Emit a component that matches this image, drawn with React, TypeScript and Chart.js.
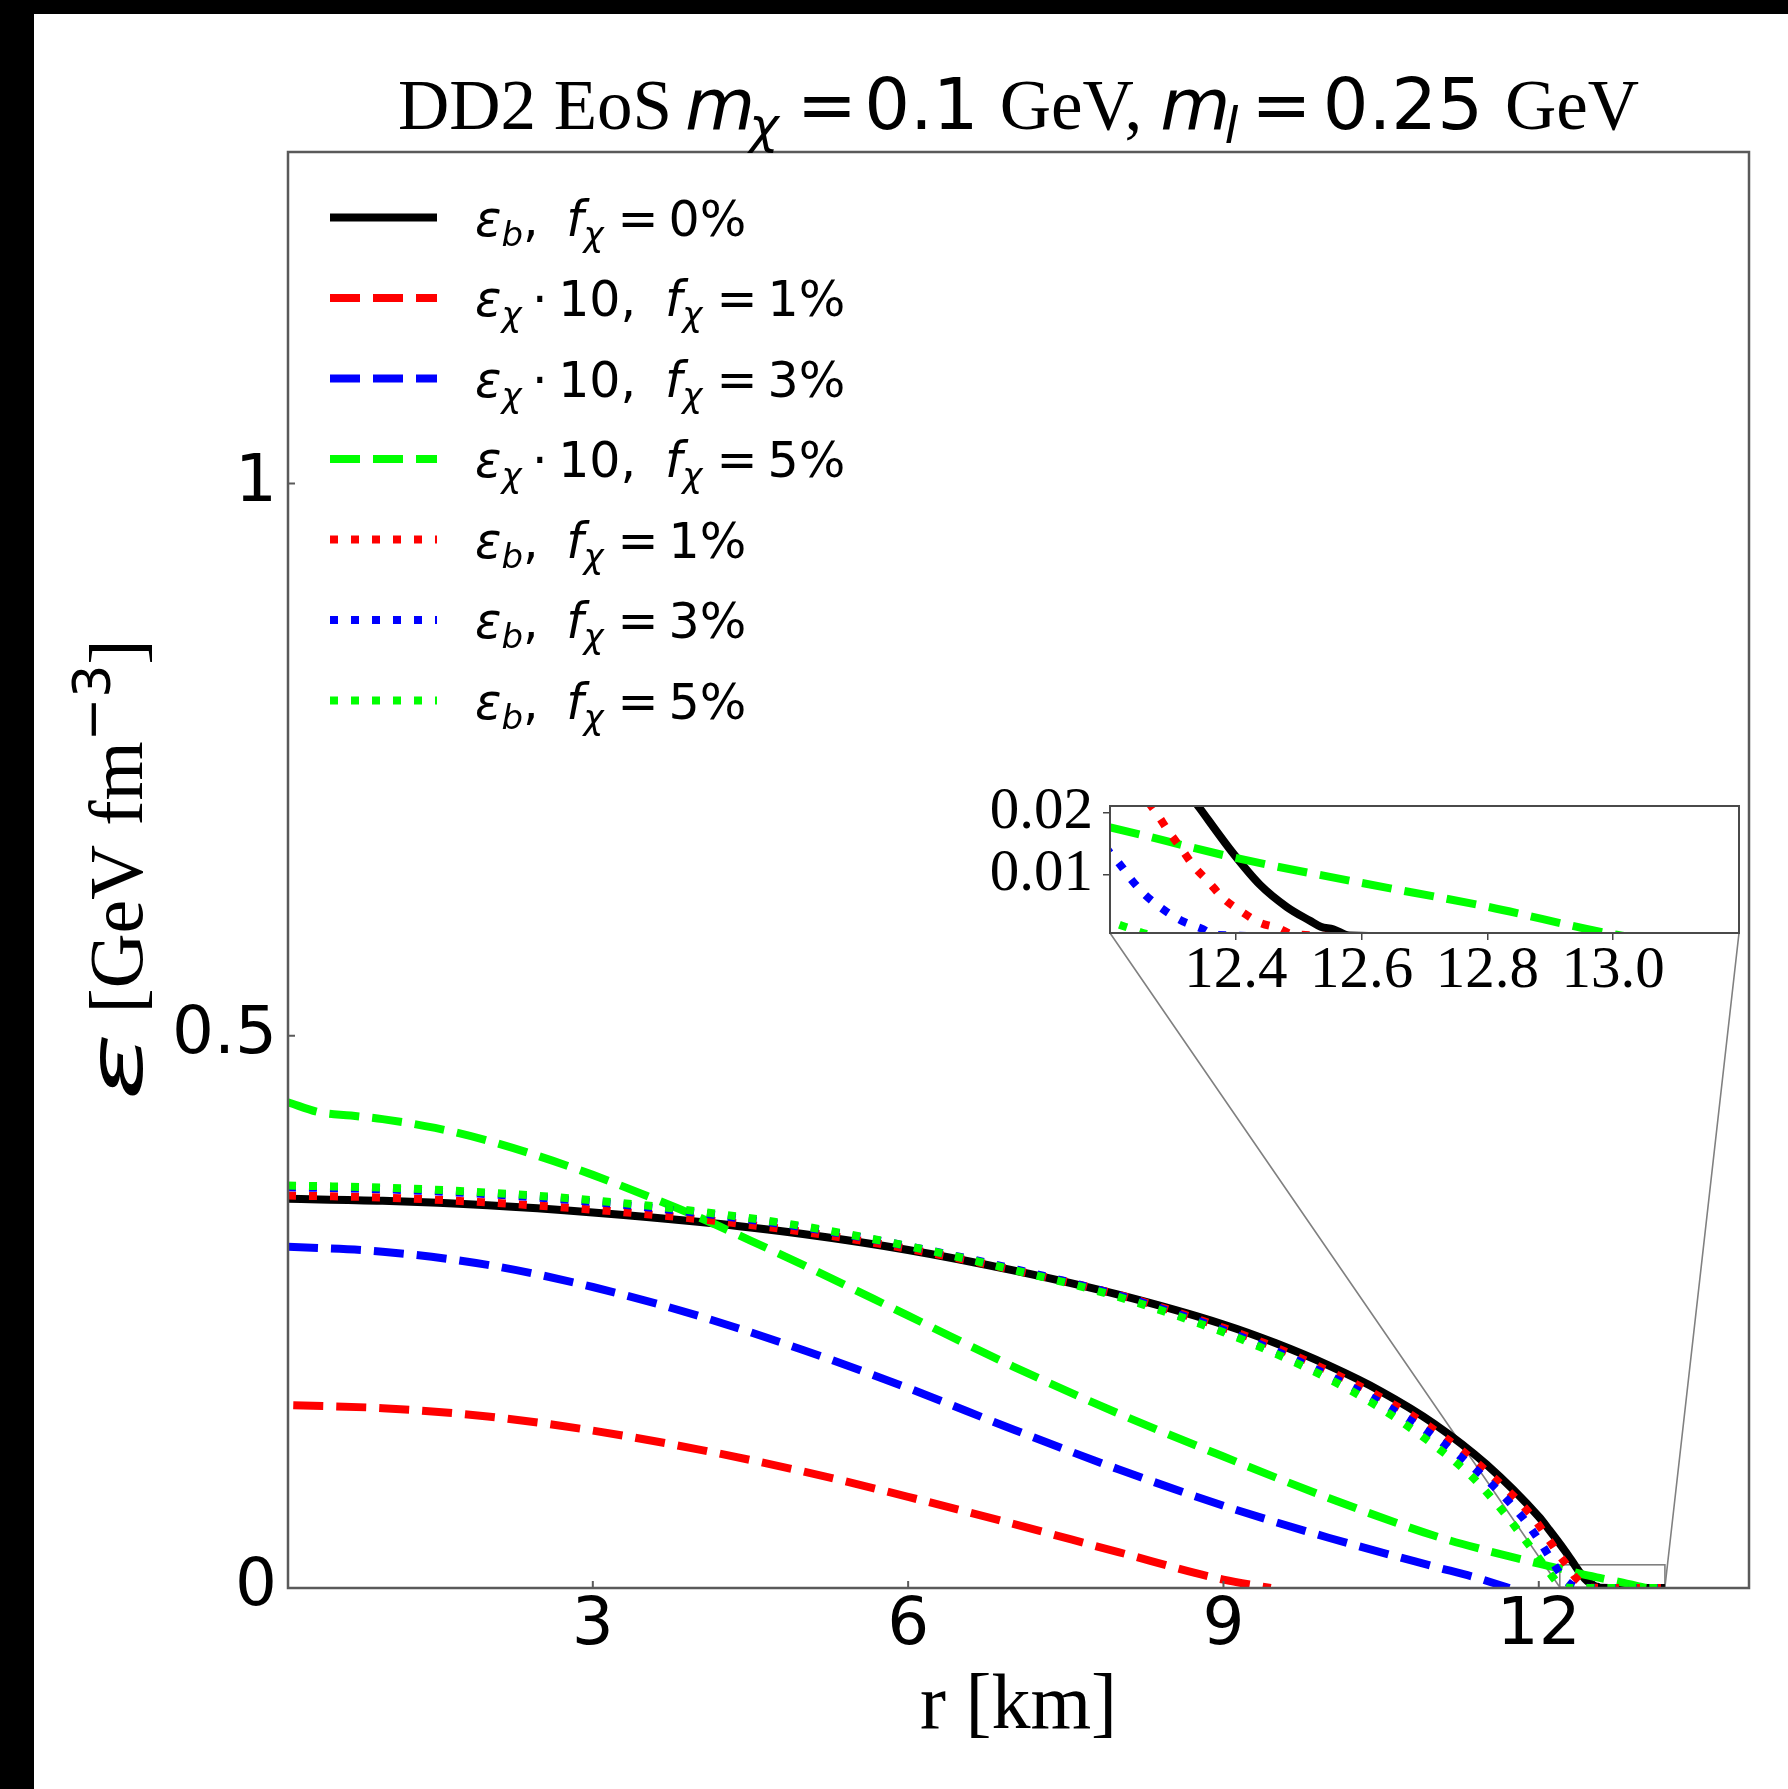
import React, { useEffect, useRef } from 'react';
import { Chart, registerables } from 'chart.js';

Chart.register(...registerables);

const W = 1788;
const H = 1789;

// ---------------- data ----------------
// eps_b, f_chi = 0%
const rB0 = [0.1, 1, 2, 3, 4, 5, 6, 7, 8, 9, 9.5, 10, 10.5, 11, 11.5, 12.0, 12.1, 12.25, 12.343, 12.396, 12.438, 12.481, 12.518, 12.535, 12.555, 12.58, 12.8, 13.2];
const eB0 = [0.3523, 0.3505, 0.3465, 0.34, 0.3315, 0.3205, 0.306, 0.2875, 0.2655, 0.2385, 0.2215, 0.2015, 0.178, 0.149, 0.112, 0.0645, 0.0525, 0.0335, 0.0206, 0.0134, 0.00845, 0.00487, 0.00265, 0.0017, 0.0013, 0.0003, 0.00005, 0.00005];
// eps_chi * 10, f_chi = 1%
const rC1 = [0.15, 1, 2, 3, 4, 5, 6, 7, 8, 9, 9.45];
const eC1 = [0.1655, 0.1628, 0.1553, 0.1425, 0.1255, 0.1055, 0.0825, 0.058, 0.0325, 0.0075, 0];
// eps_chi * 10, f_chi = 3%
const rC3 = [0.1, 1, 2, 3, 4, 5, 6, 7, 8, 9, 10, 11, 11.4, 11.72];
const eC3 = [0.309, 0.3045, 0.2925, 0.2725, 0.2465, 0.2155, 0.181, 0.1435, 0.1075, 0.0745, 0.0455, 0.0195, 0.0095, 0];
// eps_chi * 10, f_chi = 5%
const rC5 = [0.1, 0.4, 0.7, 1.0, 1.5, 2.0, 2.5, 3.0, 3.5, 4.0, 4.5, 5.0, 6.0, 7.0, 8.0, 9.0, 10.0, 11.0, 11.5, 12.0, 12.2, 12.4, 12.6, 12.8, 13.0, 13.03];
const eC5 = [0.4397, 0.4307, 0.4277, 0.4245, 0.4165, 0.405, 0.3905, 0.374, 0.3555, 0.336, 0.3145, 0.2925, 0.2465, 0.2005, 0.158, 0.119, 0.0815, 0.0475, 0.034, 0.022, 0.0176, 0.0127, 0.0087, 0.0049, 0.0005, 0.00005];
// eps_b, f_chi = 1%
const rB1 = [0.1, 1, 2, 3, 4, 5, 6, 7, 8, 9, 9.5, 10, 10.5, 11, 11.5, 11.94, 12.1, 12.2, 12.273, 12.292, 12.313, 12.333, 12.357, 12.38, 12.408, 12.437, 12.469, 12.49, 12.7, 13.2];
const eB1 = [0.3553, 0.3535, 0.349, 0.3425, 0.334, 0.3225, 0.307, 0.288, 0.2655, 0.2355, 0.2175, 0.1965, 0.1725, 0.1435, 0.106, 0.0645, 0.043, 0.029, 0.02, 0.0171, 0.01425, 0.0114, 0.00885, 0.00625, 0.0042, 0.0024, 0.00144, 0.0005, 0.00005, 0.00005];
// eps_b, f_chi = 3%
const rB3 = [0.1, 1, 2, 3, 4, 5, 6, 7, 8, 9, 9.5, 10, 10.5, 11, 11.5, 11.84, 12.0, 12.1, 12.2, 12.214, 12.235, 12.258, 12.287, 12.316, 12.345, 12.368, 12.6, 13.2];
const eB3 = [0.3628, 0.361, 0.3565, 0.3495, 0.3395, 0.3265, 0.3095, 0.289, 0.265, 0.2335, 0.2145, 0.1925, 0.1675, 0.1375, 0.0985, 0.0645, 0.0435, 0.0285, 0.0135, 0.0119, 0.0091, 0.0066, 0.0043, 0.00255, 0.00144, 0.0004, 0.00005, 0.00005];
// eps_b, f_chi = 5%
const rB5 = [0.1, 1, 2, 3, 4, 5, 6, 7, 8, 9, 9.5, 10, 10.5, 11, 11.35, 11.65, 11.85, 12.0, 12.1, 12.2, 12.232, 12.258, 12.3, 12.6, 13.2];
const eB5 = [0.3643, 0.3625, 0.358, 0.351, 0.341, 0.3275, 0.3095, 0.288, 0.2635, 0.2315, 0.212, 0.1895, 0.1625, 0.1295, 0.102, 0.0705, 0.046, 0.027, 0.014, 0.0028, 0.00144, 0.00056, 0.0001, 0.00005, 0.00005];

const xRangeMain = [0.1, 14];
const yRangeMain = [0, 1.3];
const xTicksMain = [3, 6, 9, 12];
const yTicksMain = [0, 0.5, 1];

const xRangeInset = [12.2, 13.2];
const yRangeInset = [0.0007, 0.021];
const xTicksInset = [12.4, 12.6, 12.8, 13.0];
const yTicksInset = [0.01, 0.02];

const legendKinds = ['b', 'chi', 'chi', 'chi', 'b', 'b', 'b'];
const legendPercents = ['0%', '1%', '3%', '5%', '1%', '3%', '5%'];

// ---------------- styles / layout ----------------
const MAIN = { left: 288, top: 152, right: 1749, bottom: 1588 };
const INSET = { left: 1110, top: 806, right: 1739, bottom: 933 };
const LW = 8;
const DASHED = [30, 13];
const DOTTED = [8, 13];

const SERIES = [
  { r: rB0, e: eB0, color: '#000000', dash: [] as number[] },
  { r: rC1, e: eC1, color: '#ff0000', dash: DASHED },
  { r: rC3, e: eC3, color: '#0000ff', dash: DASHED },
  { r: rC5, e: eC5, color: '#00ff00', dash: DASHED },
  { r: rB1, e: eB1, color: '#ff0000', dash: DOTTED },
  { r: rB3, e: eB3, color: '#0000ff', dash: DOTTED },
  { r: rB5, e: eB5, color: '#00ff00', dash: DOTTED },
];

const dj = (s: number) => `${s}px "DejaVu Sans"`;
const dji = (s: number) => `italic ${s}px "DejaVu Sans"`;
const serif = (s: number) => `${s}px "Liberation Serif"`;

type Seg = { t: string; f: string; dy?: number; dx?: number; sx?: number };

function drawRich(ctx: CanvasRenderingContext2D, segs: Seg[], x: number, y: number, align: 'left' | 'center') {
  let total = 0;
  for (const s of segs) {
    ctx.font = s.f;
    total += (s.dx || 0) + ctx.measureText(s.t).width * (s.sx || 1);
  }
  let cx = align === 'center' ? x - total / 2 : x;
  ctx.textAlign = 'left';
  ctx.textBaseline = 'alphabetic';
  for (const s of segs) {
    ctx.font = s.f;
    cx += s.dx || 0;
    const sx = s.sx || 1;
    ctx.save();
    ctx.translate(cx, y + (s.dy || 0));
    ctx.scale(sx, 1);
    ctx.fillText(s.t, 0, 0);
    ctx.restore();
    cx += ctx.measureText(s.t).width * sx;
  }
}

const LF = 49; // legend font size
const LS = 34; // legend subscript size

function legendSegs(kind: string, pct: string): Seg[] {
  const segs: Seg[] = [{ t: 'ε', f: dji(LF) }];
  if (kind === 'b') {
    segs.push({ t: 'b', f: dji(LS), dy: 10 }, { t: ',', f: dj(LF) });
  } else {
    segs.push({ t: 'χ', f: dji(LS), dy: 10 }, { t: '·', f: dj(LF), dx: 10.5 }, { t: '10,', f: dj(LF), dx: 10.5 });
  }
  segs.push(
    { t: 'f', f: dji(LF), dx: kind === 'b' ? 27.5 : 29 },
    { t: 'χ', f: dji(LS), dy: 10 },
    { t: '=', f: dj(LF), dx: 14 },
    { t: pct, f: dj(LF), dx: 10 }
  );
  return segs;
}

function makeDatasets() {
  return SERIES.map((s, i) => ({
    data: s.r.map((r, k) => ({ x: r, y: s.e[k] })),
    borderColor: s.color,
    backgroundColor: s.color,
    borderWidth: LW,
    borderDash: s.dash,
    borderCapStyle: 'butt' as const,
    borderJoinStyle: 'round' as const,
    pointRadius: 0,
    fill: false,
    cubicInterpolationMode: 'monotone' as const,
    order: SERIES.length - i,
  }));
}

const mainDecor = {
  id: 'mainDecor',
  beforeDatasetsDraw(chart: any) {
    const { ctx, scales } = chart;
    const x = scales.x, y = scales.y;
    const rx0 = x.getPixelForValue(xRangeInset[0]);
    const rx1 = x.getPixelForValue(xRangeInset[1]);
    const ry0 = y.getPixelForValue(yRangeInset[0]);
    const ry1 = y.getPixelForValue(yRangeInset[1]);
    ctx.save();
    ctx.strokeStyle = '#808080';
    ctx.lineWidth = 1.6;
    ctx.strokeRect(rx0, ry1, rx1 - rx0, ry0 - ry1);
    ctx.beginPath();
    ctx.moveTo(INSET.left, INSET.bottom);
    ctx.lineTo(rx0, ry0);
    ctx.moveTo(INSET.right, INSET.bottom);
    ctx.lineTo(rx1, ry0);
    ctx.stroke();
    ctx.restore();
  },
  afterDraw(chart: any) {
    const { ctx, chartArea: a, scales } = chart;
    const x = scales.x, y = scales.y;
    ctx.save();
    // frame
    ctx.strokeStyle = '#5a5a5a';
    ctx.lineWidth = 2.5;
    ctx.strokeRect(a.left, a.top, a.right - a.left, a.bottom - a.top);
    // inward ticks
    ctx.lineWidth = 2;
    ctx.beginPath();
    for (const v of xTicksMain) {
      const px = x.getPixelForValue(v);
      ctx.moveTo(px, a.bottom);
      ctx.lineTo(px, a.bottom - 7);
    }
    for (const v of yTicksMain) {
      const py = y.getPixelForValue(v);
      ctx.moveTo(a.left, py);
      ctx.lineTo(a.left + 7, py);
    }
    ctx.stroke();

    // legend
    ctx.fillStyle = '#000';
    SERIES.forEach((s, i) => {
      const ly = 217.5 + 80.5 * i;
      ctx.beginPath();
      ctx.strokeStyle = s.color;
      ctx.lineWidth = LW;
      ctx.lineCap = 'butt';
      ctx.setLineDash(s.dash);
      ctx.moveTo(330, ly);
      ctx.lineTo(437, ly);
      ctx.stroke();
      ctx.setLineDash([]);
      drawRich(ctx, legendSegs(legendKinds[i], legendPercents[i]), 475, ly + 18, 'left');
    });

    // title
    const cx = (a.left + a.right) / 2;
    drawRich(ctx, [
      { t: 'DD2 EoS', f: serif(71) },
      { t: 'm', f: dji(72), dx: 13 },
      { t: 'χ', f: dji(50), dy: 14, dx: -6 },
      { t: '=', f: dj(72), dx: 18 },
      { t: '0.1', f: dj(72), dx: 7 },
      { t: 'GeV,', f: serif(71), dx: 21 },
      { t: 'm', f: dji(72), dx: 18 },
      { t: 'l', f: dji(50), dy: 14, dx: -6 },
      { t: '=', f: dj(72), dx: 13 },
      { t: '0.25', f: dj(72), dx: 11 },
      { t: 'GeV', f: serif(71), dx: 22 },
    ], cx, 129, 'center');

    // x label
    drawRich(ctx, [{ t: 'r [km]', f: serif(78) }], cx, 1728, 'center');

    // y label
    ctx.save();
    ctx.translate(142, (a.top + a.bottom) / 2);
    ctx.rotate(-Math.PI / 2);
    drawRich(ctx, [
      { t: 'ε', f: dji(74), sx: 1.7 },
      { t: ' [GeV fm', f: serif(76) },
      { t: '−3', f: dj(52), dy: -32 },
      { t: ']', f: serif(76) },
    ], 0, 0, 'center');
    ctx.restore();

    ctx.restore();
  },
};

const insetDecor = {
  id: 'insetDecor',
  beforeDatasetsDraw(chart: any) {
    const { ctx, chartArea: a } = chart;
    ctx.save();
    ctx.fillStyle = '#ffffff';
    ctx.fillRect(a.left, a.top, a.right - a.left, a.bottom - a.top);
    ctx.restore();
  },
  afterDraw(chart: any) {
    const { ctx, chartArea: a } = chart;
    ctx.save();
    ctx.strokeStyle = '#4a4a4a';
    ctx.lineWidth = 2;
    ctx.strokeRect(a.left, a.top, a.right - a.left, a.bottom - a.top);
    ctx.restore();
  },
};

export default function App() {
  const mainRef = useRef<HTMLCanvasElement | null>(null);
  const insetRef = useRef<HTMLCanvasElement | null>(null);

  useEffect(() => {
    document.body.style.margin = '0';
    document.body.style.overflow = 'hidden';
    if (!mainRef.current || !insetRef.current) return;

    const main = new Chart(mainRef.current, {
      type: 'line',
      data: { datasets: makeDatasets() as any },
      options: {
        responsive: false,
        animation: false,
        devicePixelRatio: 1,
        events: [],
        layout: { padding: { left: 0, top: MAIN.top, right: W - MAIN.right, bottom: 0 } },
        plugins: { legend: { display: false }, title: { display: false }, tooltip: { enabled: false } },
        scales: {
          x: {
            type: 'linear',
            min: xRangeMain[0],
            max: xRangeMain[1],
            afterBuildTicks: (s: any) => { s.ticks = xTicksMain.map((v) => ({ value: v })); },
            afterFit: (s: any) => { s.height = H - MAIN.bottom; },
            grid: { display: false, drawTicks: false },
            border: { display: false },
            ticks: {
              autoSkip: false, maxRotation: 0, minRotation: 0, padding: 6, color: '#000',
              font: { family: 'DejaVu Sans', size: 66, lineHeight: 1 },
              callback: (v: any) => String(v),
            },
          },
          y: {
            type: 'linear',
            min: yRangeMain[0],
            max: yRangeMain[1],
            afterBuildTicks: (s: any) => { s.ticks = yTicksMain.map((v) => ({ value: v })); },
            afterFit: (s: any) => { s.width = MAIN.left; },
            grid: { display: false, drawTicks: false },
            border: { display: false },
            ticks: {
              padding: 11, color: '#000',
              font: { family: 'DejaVu Sans', size: 66, lineHeight: 1 },
              callback: (v: any) => String(v),
            },
          },
        },
      } as any,
      plugins: [mainDecor],
    });

    const inset = new Chart(insetRef.current, {
      type: 'line',
      data: { datasets: makeDatasets() as any },
      options: {
        responsive: false,
        animation: false,
        devicePixelRatio: 1,
        events: [],
        layout: { padding: { left: 0, top: INSET.top, right: W - INSET.right, bottom: 0 } },
        plugins: { legend: { display: false }, title: { display: false }, tooltip: { enabled: false } },
        scales: {
          x: {
            type: 'linear',
            min: xRangeInset[0],
            max: xRangeInset[1],
            afterBuildTicks: (s: any) => { s.ticks = xTicksInset.map((v) => ({ value: v })); },
            afterFit: (s: any) => { s.height = H - INSET.bottom; },
            grid: { display: true, drawOnChartArea: false, drawTicks: true, tickLength: 7, color: '#444', lineWidth: 1.5 },
            border: { display: false },
            ticks: {
              autoSkip: false, maxRotation: 0, minRotation: 0, padding: 2, color: '#000',
              font: { family: 'Liberation Serif', size: 59, lineHeight: 1 },
              callback: (v: any) => Number(v).toFixed(1),
            },
          },
          y: {
            type: 'linear',
            min: yRangeInset[0],
            max: yRangeInset[1],
            afterBuildTicks: (s: any) => { s.ticks = yTicksInset.map((v) => ({ value: v })); },
            afterFit: (s: any) => { s.width = INSET.left; },
            grid: { display: true, drawOnChartArea: false, drawTicks: true, tickLength: 7, color: '#444', lineWidth: 1.5 },
            border: { display: false },
            ticks: {
              padding: 10, color: '#000',
              font: { family: 'Liberation Serif', size: 59, lineHeight: 1 },
              callback: (v: any) => Number(v).toFixed(2),
            },
          },
        },
      } as any,
      plugins: [insetDecor],
    });

    return () => {
      main.destroy();
      inset.destroy();
    };
  }, []);

  return (
    <div style={{ position: 'absolute', left: 0, top: 0, width: W, height: H, background: '#000', overflow: 'hidden' }}>
      <div style={{ position: 'absolute', left: 34, top: 14, width: W - 34, height: H - 14, background: '#fff' }} />
      <canvas ref={mainRef} width={W} height={H} style={{ position: 'absolute', left: 0, top: 0 }} />
      <canvas ref={insetRef} width={W} height={H} style={{ position: 'absolute', left: 0, top: 0 }} />
    </div>
  );
}
